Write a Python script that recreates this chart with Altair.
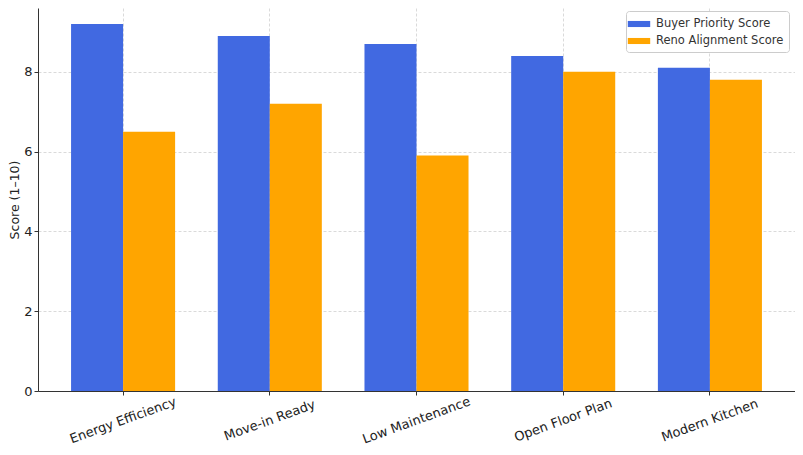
import altair as alt
import pandas as pd

categories = ["Energy Efficiency", "Move-in Ready", "Low Maintenance", "Open Floor Plan", "Modern Kitchen"]
buyer_scores = [9.2, 8.9, 8.7, 8.4, 8.1]
reno_scores = [6.5, 7.2, 5.9, 8.0, 7.8]
series = ["Buyer Priority Score", "Reno Alignment Score"]
colors = ["#4169E1", "#FFA500"]

rows = []
for c, b, r in zip(categories, buyer_scores, reno_scores):
    rows.append({"Feature": c, "Series": series[0], "Score": b})
    rows.append({"Feature": c, "Series": series[1], "Score": r})
df = pd.DataFrame(rows)

FONT = "DejaVu Sans"

chart = alt.Chart(df).mark_bar().encode(
    x=alt.X("Feature:N", sort=categories,
            scale=alt.Scale(paddingInner=0, paddingOuter=0.08),
            axis=alt.Axis(title=None, labelAngle=-20, labelAlign="center", labelBaseline="middle",
                          labelFontSize=13, labelPadding=25, grid=True)),
    xOffset=alt.XOffset("Series:N", sort=series,
                        scale=alt.Scale(paddingInner=0, paddingOuter=0.41)),
    y=alt.Y("Score:Q", scale=alt.Scale(domain=[0, 9.6], nice=False),
            axis=alt.Axis(title="Score (1–10)", values=[0, 2, 4, 6, 8], labelFontSize=13,
                          titleFontSize=12.5, titleFontWeight="normal", titlePadding=2, grid=True)),
    color=alt.Color("Series:N", sort=series, scale=alt.Scale(domain=series, range=colors),
                    legend=alt.Legend(title=None, orient="none", legendX=588, legendY=3,
                                      fillColor="white", strokeColor="#cccccc", cornerRadius=3,
                                      padding=5, labelFontSize=11.5, labelColor="#333333",
                                      symbolType="M-1.4,-0.38H1.4V0.38H-1.4Z", symbolSize=256,
                                      symbolStrokeWidth=0, symbolOpacity=1, rowPadding=3,
                                      labelOffset=9)),
).properties(
    width=757, height=383,
    autosize=alt.AutoSizeParams(type="none"),
    padding={"left": 30, "top": 0, "right": 0, "bottom": 56},
).configure(font=FONT).configure_view(stroke=None).configure_axis(
    domainColor="#333333", tickColor="#333333", tickSize=4, labelColor="#222222",
    titleColor="#222222", labelFont=FONT, titleFont=FONT,
    gridColor="#d0d0d0", gridDash=[3, 2], gridWidth=0.8,
)

chart.save("out.html", embed_options={"renderer": "svg", "actions": False})
